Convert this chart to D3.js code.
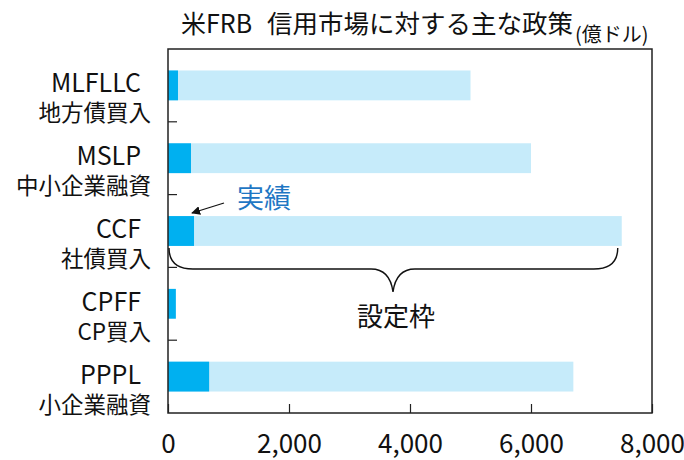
<!DOCTYPE html>
<html>
<head>
<meta charset="utf-8">
<script src="https://cdn.jsdelivr.net/npm/d3@7"></script>
<style>
  body { margin: 0; background: #fff; }
  text { font-family: "Noto Sans CJK JP", "Noto Sans", sans-serif; fill: #111; }
</style>
</head>
<body>
<script>
// data (億ドル)
const codes = ['MLFLLC', 'MSLP', 'CCF', 'CPFF', 'PPPL'];
const names = ['地方債買入', '中小企業融資', '社債買入', 'CP買入', '小企業融資'];
const limits = [5000, 6000, 7500, 0, 6700];   // 設定枠
const actuals = [165, 380, 430, 130, 680];    // 実績
const xTicks = [0, 2000, 4000, 6000, 8000];

const W = 684, H = 460;
const plotL = 168, plotR = 652, plotT = 49, plotB = 413;

const svg = d3.select('body').append('svg')
    .attr('width', W)
    .attr('height', H);

const x = d3.scaleLinear().domain([0, 8000]).range([plotL, plotR]);
const y = d3.scaleBand().domain(codes).range([plotT, plotB])
    .paddingInner(0.59).paddingOuter(0.295);
const yBand = d3.scaleBand().domain(codes).range([plotT, plotB]);

// title
svg.append('text')
    .attr('x', 181).attr('y', 33)
    .attr('font-size', 25)
    .text('米FRB');
svg.append('text')
    .attr('x', 267).attr('y', 33)
    .attr('font-size', 25.5)
    .text('信用市場に対する主な政策');
svg.append('text')
    .attr('x', 575).attr('y', 42)
    .attr('font-size', 20)
    .text('(億ドル)');

// bars: limit (light) then actual (dark)
svg.selectAll('rect.limit')
    .data(codes)
    .join('rect')
    .attr('class', 'limit')
    .attr('x', x(0))
    .attr('y', d => y(d))
    .attr('width', (d, i) => x(limits[i]) - x(0))
    .attr('height', y.bandwidth())
    .attr('fill', '#c6ebfa');

svg.selectAll('rect.actual')
    .data(codes)
    .join('rect')
    .attr('class', 'actual')
    .attr('x', x(0))
    .attr('y', d => y(d))
    .attr('width', (d, i) => x(actuals[i]) - x(0))
    .attr('height', y.bandwidth())
    .attr('fill', '#00b0f0');

// frame
svg.append('rect')
    .attr('x', plotL).attr('y', plotT)
    .attr('width', plotR - plotL).attr('height', plotB - plotT)
    .attr('fill', 'none')
    .attr('stroke', '#222')
    .attr('stroke-width', 1.5);

// category ticks (inside, at band boundaries)
svg.selectAll('line.ytick')
    .data(codes.slice(1))
    .join('line')
    .attr('class', 'ytick')
    .attr('x1', plotL).attr('x2', plotL + 9)
    .attr('y1', d => yBand(d)).attr('y2', d => yBand(d))
    .attr('stroke', '#222')
    .attr('stroke-width', 1.2);

// category labels
const lab = svg.selectAll('g.lab')
    .data(codes)
    .join('g')
    .attr('class', 'lab');
lab.append('text')
    .attr('x', 141)
    .attr('y', d => y(d) + y.bandwidth() / 2 + 7)
    .attr('text-anchor', 'end')
    .attr('font-size', 25)
    .text(d => d);
lab.append('text')
    .attr('x', 151)
    .attr('y', d => y(d) + y.bandwidth() / 2 + 36)
    .attr('text-anchor', 'end')
    .attr('font-size', 22.5)
    .text((d, i) => names[i]);

// x axis
const xAxis = svg.append('g')
    .attr('transform', `translate(0,${plotB})`)
    .call(d3.axisBottom(x)
        .tickValues(xTicks)
        .tickFormat(d3.format(','))
        .tickSizeInner(-9)
        .tickSizeOuter(0)
        .tickPadding(22));
xAxis.select('.domain').remove();
xAxis.selectAll('line').attr('stroke', '#222').attr('stroke-width', 1.2);
xAxis.selectAll('text')
    .attr('font-size', 26)
    .attr('font-family', '"Noto Sans CJK JP", "Noto Sans", sans-serif')
    .attr('fill', '#111');

// annotation: 実績 with arrow
svg.append('defs').append('marker')
    .attr('id', 'arrow')
    .attr('viewBox', '0 0 10 10')
    .attr('refX', 9).attr('refY', 5)
    .attr('markerWidth', 9).attr('markerHeight', 9)
    .attr('markerUnits', 'userSpaceOnUse')
    .attr('orient', 'auto')
    .append('path')
    .attr('d', 'M0,0 L10,5 L0,10 Z')
    .attr('fill', '#111');

svg.append('line')
    .attr('x1', 224).attr('y1', 203)
    .attr('x2', 192).attr('y2', 213)
    .attr('stroke', '#111')
    .attr('stroke-width', 1.3)
    .attr('marker-end', 'url(#arrow)');

svg.append('text')
    .attr('x', 237).attr('y', 208)
    .attr('font-size', 27)
    .style('fill', '#1f77c4')
    .text('実績');

// brace under CCF limit bar
const bx0 = x(0) + 1, bx1 = x(limits[2]) - 4;
const by0 = y('CCF') + y.bandwidth() + 2, by = 269, mid = 393, tip = 292;
svg.append('path')
    .attr('d', `M${bx0},${by0} Q${bx0},${by} ${bx0 + 24},${by} L${mid - 22},${by}`
        + ` Q${mid - 3},${by} ${mid},${tip} Q${mid + 3},${by} ${mid + 22},${by}`
        + ` L${bx1 - 24},${by} Q${bx1},${by} ${bx1},${by0}`)
    .attr('fill', 'none')
    .attr('stroke', '#111')
    .attr('stroke-width', 1.4);

svg.append('text')
    .attr('x', 396).attr('y', 326)
    .attr('text-anchor', 'middle')
    .attr('font-size', 26)
    .text('設定枠');
</script>
</body>
</html>
